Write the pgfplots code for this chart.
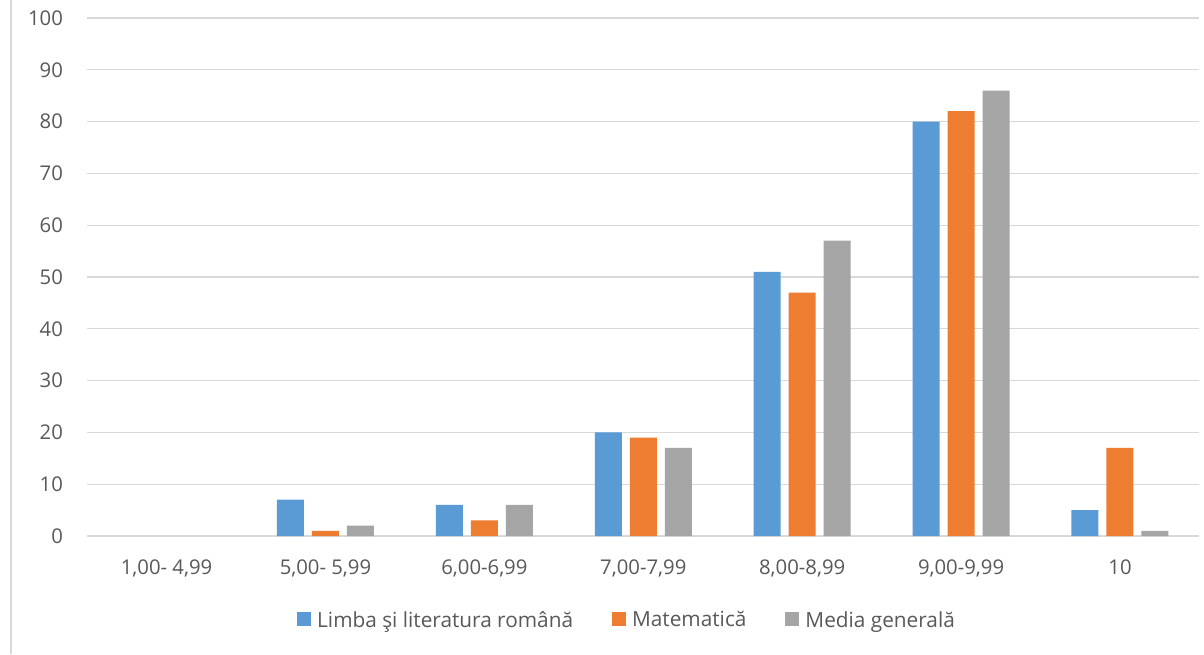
\documentclass[border=0pt]{standalone}
\usepackage{fontspec}
\setmainfont{Open Sans}
\usepackage{pgfplots}
\pgfplotsset{compat=1.18}
\definecolor{cblue}{HTML}{5B9BD5}
\definecolor{corange}{HTML}{ED7D31}
\definecolor{cgray}{HTML}{A5A5A5}
\definecolor{gridgray}{HTML}{D9D9D9}
\definecolor{textgray}{HTML}{595959}
\begin{document}
\begin{tikzpicture}[x=1pt,y=1pt]
\useasboundingbox (0,0) rectangle (1204,654);
\fill[white] (0,0) rectangle (1204,654);
\draw[line width=2pt, color=gridgray] (11,0) -- (11,654);
\begin{axis}[
  at={(87.1pt,118pt)}, anchor=south west,
  scale only axis, width=1112.4pt, height=518pt,
  xmin=-0.5, xmax=6.5, ymin=0, ymax=100,
  ytick={0,10,...,100},
  xtick={0,...,6},
  xticklabels={{1,00- 4,99},{5,00- 5,99},{6,00-6,99},{7,00-7,99},{8,00-8,99},{9,00-9,99},{10}},
  axis line style={draw=none},
  major tick length=0pt,
  ymajorgrids,
  grid style={line width=1.3pt, color=gridgray},
  /pgf/number format/assume math mode=true,
  ticklabel style={font=\fontsize{20.3}{24}\selectfont, text=textgray},
  yticklabel style={anchor=east, inner sep=0pt, xshift=-24pt},
  xticklabel style={anchor=base, inner sep=0pt, yshift=-38pt},
  bar width=27pt,
  legend columns=3,
  legend cell align=left,
  legend image code/.code={\fill[#1] (0pt,-6pt) rectangle (14pt,7.5pt);},
  legend style={at={(0.1860,-0.1620)}, anchor=west, draw=none, fill=none,
    font=\fontsize{20.8}{25}\selectfont, text=textgray,
    nodes={inner sep=0pt},
    /tikz/every odd column/.append style={column sep=6pt},
    /tikz/every even column/.append style={column sep=39pt}},
]
\addplot[ybar, bar shift=-35pt, fill=cblue, draw=none] coordinates {(1,7) (2,6) (3,20) (4,51) (5,80) (6,5)};
\addplot[ybar, bar shift=0pt, fill=corange, draw=none] coordinates {(1,1) (2,3) (3,19) (4,47) (5,82) (6,17)};
\addplot[ybar, bar shift=35pt, fill=cgray, draw=none] coordinates {(1,2) (2,6) (3,17) (4,57) (5,86) (6,1)};
\legend{Limba şi literatura română, Matematică, Media generală}
\end{axis}
\end{tikzpicture}
\end{document}
